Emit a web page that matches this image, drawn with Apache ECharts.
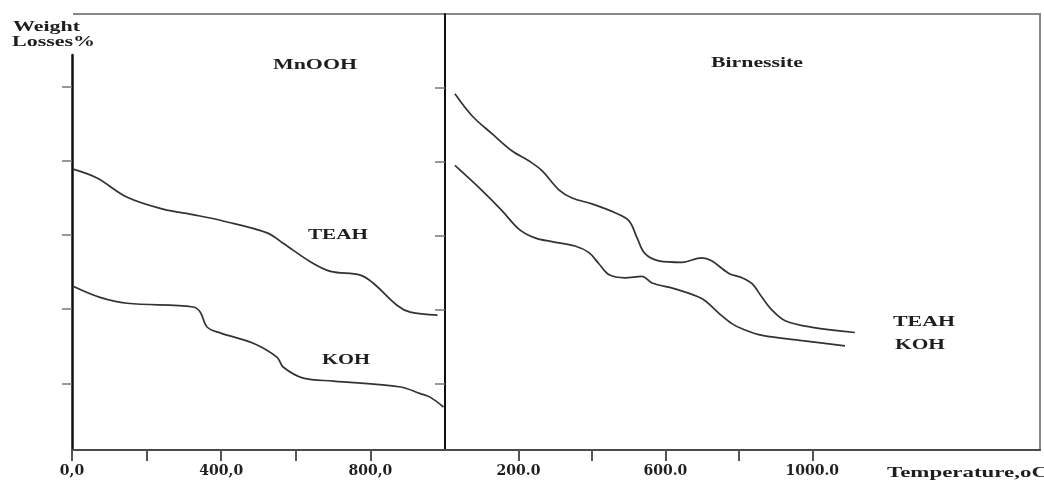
<!DOCTYPE html>
<html>
<head>
<meta charset="utf-8">
<script src="https://cdn.jsdelivr.net/npm/echarts@6/dist/echarts.min.js"></script>
<style>
html,body{margin:0;padding:0;background:#fff;}
#chart{width:1044px;height:484px;}
</style>
</head>
<body>
<div id="chart"></div>
<script>
// ---- Data (temperature in °C, weight-loss axis in arbitrary tick units) ----
const mnTeahT = [3, 67, 148, 244, 330, 405, 523, 566, 639, 693, 773, 808, 872, 907, 980];
const mnTeahW = [3.89, 3.77, 3.51, 3.35, 3.27, 3.19, 3.03, 2.89, 2.64, 2.51, 2.46, 2.35, 2.05, 1.96, 1.92];
const mnKohT = [3, 75, 148, 325, 344, 362, 397, 486, 550, 566, 620, 701, 881, 934, 961, 996];
const mnKohW = [2.31, 2.16, 2.08, 2.03, 1.96, 1.76, 1.68, 1.54, 1.35, 1.22, 1.07, 1.03, 0.95, 0.86, 0.81, 0.68];
const biTeahT = [27, 74, 128, 182, 229, 264, 310, 346, 400, 463, 501, 523, 544, 582, 645, 699, 726, 773, 809, 836, 864, 891, 926, 1000, 1116];
const biTeahW = [4.92, 4.62, 4.38, 4.15, 4.01, 3.88, 3.62, 3.51, 3.43, 3.31, 3.20, 2.97, 2.76, 2.66, 2.64, 2.70, 2.66, 2.49, 2.43, 2.35, 2.16, 1.99, 1.85, 1.76, 1.69];
const biKohT = [27, 101, 155, 201, 245, 291, 354, 392, 419, 447, 490, 536, 564, 626, 699, 746, 781, 809, 864, 972, 1089];
const biKohW = [3.95, 3.61, 3.34, 3.09, 2.97, 2.92, 2.86, 2.77, 2.62, 2.47, 2.43, 2.45, 2.36, 2.28, 2.15, 1.95, 1.81, 1.74, 1.65, 1.58, 1.51];
const leftXTicks = [0, 200, 400, 600, 800];
const leftXLabels = [0, 400, 800];
const rightXTicks = [200, 400, 600, 800, 1000];
const rightXLabels = [200, 600, 1000];
const yTicks = [1, 2, 3, 4, 5];
const panelTitles = ['MnOOH', 'Birnessite'];
const seriesNames = ['TEAH', 'KOH'];

const zip = (a, b) => a.map((v, i) => [v, b[i]]);

const chart = echarts.init(document.getElementById('chart'), null, {renderer: 'canvas'});

const mctx = document.createElement('canvas').getContext('2d');
function measure(t, font) { mctx.font = font; return mctx.measureText(t).width; }
const GFONT = 'bold 14px "Liberation Serif"';
function txt(text, x, y, w, align) {
  return {
    type: 'text', x: x, y: y,
    scaleX: w / measure(text, GFONT),
    style: {text: text, font: GFONT, fill: '#1e1e1e', align: align || 'center', textAlign: align || 'center',
            verticalAlign: 'middle', textVerticalAlign: 'middle'},
    z: 10
  };
}

const tickLabelStyle = {
  fontFamily: 'DejaVu Serif', fontWeight: 'bold', fontSize: 14, color: '#1e1e1e', margin: 14
};

function xAxisDef(grid, min, max, ticks, labels, fmt) {
  return {
    type: 'value', gridIndex: grid, min: min, max: max,
    axisLine: {show: true, onZero: false, lineStyle: {color: '#4a4a4a', width: 2}},
    axisTick: {show: true, inside: false, length: 11, customValues: ticks, lineStyle: {color: '#555', width: 2}},
    axisLabel: Object.assign({show: true, customValues: labels, formatter: fmt}, tickLabelStyle),
    splitLine: {show: false}
  };
}
function yAxisDef(grid, min, max, w) {
  return {
    type: 'value', gridIndex: grid, min: min, max: max,
    axisLine: {show: true, onZero: false, lineStyle: {color: '#111', width: w}},
    axisTick: {show: true, inside: false, length: 10, customValues: yTicks, lineStyle: {color: '#777', width: 1.5}},
    axisLabel: {show: false},
    splitLine: {show: false}
  };
}

const lineStyle = {color: '#333', width: 1.7};
function lineSeries(xi, yi, t, w, name) {
  return {
    type: 'line', name: name, xAxisIndex: xi, yAxisIndex: yi,
    data: zip(t, w), smooth: 0.35, symbol: 'none', showSymbol: false,
    lineStyle: lineStyle, silent: true
  };
}

chart.setOption({
  animation: false,
  backgroundColor: '#fff',
  grid: [
    {left: 72, top: 55, width: 373, height: 395, show: false},
    {left: 445, top: 14, width: 595, height: 436, show: true, borderColor: '#888', borderWidth: 2, backgroundColor: 'transparent'}
  ],
  xAxis: [
    xAxisDef(0, 0, 1000, leftXTicks, leftXLabels, v => v + ',0'),
    xAxisDef(1, 0, 1620, rightXTicks, rightXLabels, v => v + '.0')
  ],
  yAxis: [
    yAxisDef(0, 0.1, 5.43, 2.5),
    yAxisDef(1, 0.1, 6, 2)
  ],
  series: [
    lineSeries(0, 0, mnTeahT, mnTeahW, seriesNames[0]),
    lineSeries(0, 0, mnKohT, mnKohW, seriesNames[1]),
    lineSeries(1, 1, biTeahT, biTeahW, seriesNames[0]),
    lineSeries(1, 1, biKohT, biKohW, seriesNames[1])
  ],
  graphic: [
    {type: 'line', shape: {x1: 73, y1: 14, x2: 445, y2: 14}, style: {stroke: '#888', lineWidth: 2}},
    txt('Weight', 13, 27, 67, 'left'),
    txt('Losses%', 12, 42, 83, 'left'),
    txt(panelTitles[0], 315, 65, 84),
    txt(panelTitles[1], 757, 63, 92),
    txt(seriesNames[0], 338, 235, 60),
    txt(seriesNames[1], 346, 360, 48),
    txt(seriesNames[0], 924, 322, 62),
    txt(seriesNames[1], 920, 345, 50),
    txt('Temperature,oC', 887, 473, 161, 'left')
  ]
});
</script>
</body>
</html>
